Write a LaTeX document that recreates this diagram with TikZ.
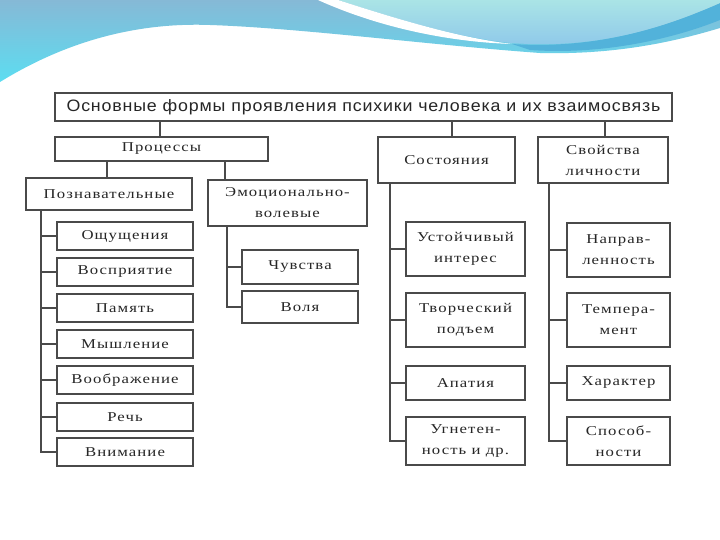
\documentclass[tikz,border=0pt]{standalone}
\usepackage{fontspec}
\setmainfont{Liberation Serif}
\newfontfamily\boxfont[LetterSpace=8,FakeStretch=1.24]{Liberation Serif}
\newfontfamily\titlefont[LetterSpace=5,FakeStretch=1.08]{Liberation Sans}
\definecolor{linec}{HTML}{4A4A4A}
\definecolor{textc}{HTML}{262626}
\definecolor{waveTop}{HTML}{86B9D6}
\definecolor{waveBot}{HTML}{5CDDF1}
\definecolor{lightTop}{HTML}{AAE4E6}
\definecolor{lightBot}{HTML}{8CC6EA}
\definecolor{bandc}{HTML}{52B2DA}
\tikzset{
  box/.style={draw=linec, line width=1.3pt, fill=white, inner sep=0pt,
    font=\boxfont\fontsize{13.5}{21}\selectfont, text=textc, align=center},
  link/.style={draw=linec, line width=1.6pt}
}
\begin{document}
\begin{tikzpicture}[x=1pt,y=-1pt]
\useasboundingbox (0,0) rectangle (720,540);
\fill[white] (0,0) rectangle (720,540);
% background waves
\shade[top color=waveTop, bottom color=waveBot]
  (0,82) .. controls (60,45) and (130,22) .. (210,25)
  .. controls (300,28) and (430,45) .. (540,53)
  .. controls (620,55) and (680,40) .. (720,28) -- (720,0) -- (0,0) -- cycle;
\fill[bandc] (512,44) .. controls (600,50) and (670,25) .. (720,3)
  -- (720,20) .. controls (670,40) and (600,55) .. (530,50) -- cycle;
\shade[top color=lightTop, bottom color=lightBot]
  (338,0) .. controls (400,20) and (460,38) .. (512,43)
  .. controls (600,50) and (670,25) .. (720,3) -- (720,0) -- cycle;
\fill[white] (318,0) .. controls (380,28) and (450,42) .. (512,44)
  .. controls (460,38) and (400,20) .. (338,0) -- cycle;

\coordinate (pl) at (41,0);
\coordinate (el) at (227,0);
\coordinate (sl) at (390,0);
\coordinate (ql) at (549,0);

% top level
\node[box, minimum width=617pt, minimum height=28pt, line width=1.4pt,
  font=\titlefont\fontsize{16.5}{19}\selectfont] (title) at (363.5,107)
  {Основные формы проявления психики человека и их взаимосвязь};
\node[box, minimum width=213pt, minimum height=24pt] (proc) at (161.5,149) {Процессы};
\node[box, minimum width=137pt, minimum height=46pt] (sost) at (446.5,160) {Состояния};
\node[box, minimum width=130pt, minimum height=46pt] (svoy) at (603,160) {Свойства\\личности};
\node[box, minimum width=166pt, minimum height=32pt] (pozn) at (109,194) {Познавательные};
\node[box, minimum width=159pt, minimum height=46pt] (emo) at (287.5,203) {Эмоционально-\\волевые};

\draw[link] (title.south -| 160,0) -- (proc.north -| 160,0);
\draw[link] (title.south -| 452,0) -- (sost.north -| 452,0);
\draw[link] (title.south -| 605,0) -- (svoy.north -| 605,0);
\draw[link] (proc.south -| 107,0) -- (pozn.north -| 107,0);
\draw[link] (proc.south -| 225,0) -- (emo.north -| 225,0);

% cognitive processes
\foreach \n/\t/\y in {o1/Ощущения/236, o2/Восприятие/272, o3/Память/308,
  o4/Мышление/344, o5/Воображение/380, o6/Речь/417, o7/Внимание/452}{
  \node[box, minimum width=136pt, minimum height=28pt] (\n) at (125,\y) {\t};
}
\draw[link] (pozn.south -| pl) |- (o7.west);
\foreach \n in {o1,o2,o3,o4,o5,o6}{ \draw[link] (\n.west -| pl) -- (\n.west); }

% emotional-volitional
\node[box, minimum width=116pt, minimum height=34pt] (e1) at (300,267) {Чувства};
\node[box, minimum width=116pt, minimum height=32pt] (e2) at (300,307) {Воля};
\draw[link] (emo.south -| el) |- (e2.west);
\draw[link] (e1.west -| el) -- (e1.west);

% states
\node[box, minimum width=119pt, minimum height=54pt] (s1) at (465.5,249) {Устойчивый\\интерес};
\node[box, minimum width=119pt, minimum height=54pt] (s2) at (465.5,320) {Творческий\\подъем};
\node[box, minimum width=119pt, minimum height=34pt] (s3) at (465.5,383) {Апатия};
\node[box, minimum width=119pt, minimum height=48pt] (s4) at (465.5,441) {Угнетен-\\ность и др.};
\draw[link] (sost.south -| sl) |- (s4.west);
\foreach \n in {s1,s2,s3}{ \draw[link] (\n.west -| sl) -- (\n.west); }

% personality properties
\node[box, minimum width=103pt, minimum height=54pt] (p1) at (618.5,250) {Направ-\\ленность};
\node[box, minimum width=103pt, minimum height=54pt] (p2) at (618.5,320) {Темпера-\\мент};
\node[box, minimum width=103pt, minimum height=34pt] (p3) at (618.5,383) {Характер};
\node[box, minimum width=103pt, minimum height=48pt] (p4) at (618.5,441) {Способ-\\ности};
\draw[link] (svoy.south -| ql) |- (p4.west);
\foreach \n in {p1,p2,p3}{ \draw[link] (\n.west -| ql) -- (\n.west); }
\end{tikzpicture}
\end{document}
